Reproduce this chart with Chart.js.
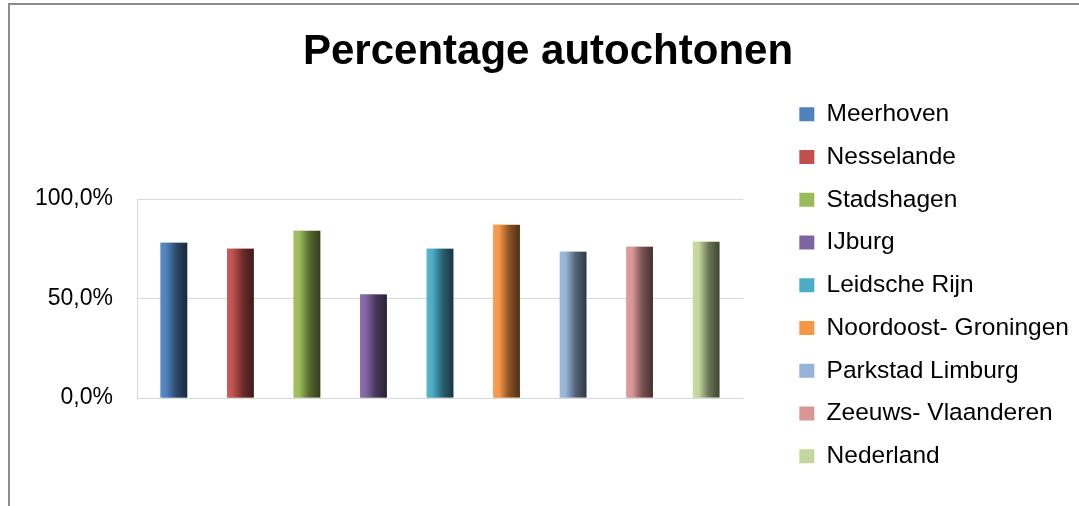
<!DOCTYPE html>
<html>
<head>
<meta charset="utf-8">
<script src="https://cdn.jsdelivr.net/npm/chart.js@4.4.1/dist/chart.umd.min.js"></script>
<style>
  html, body { margin: 0; padding: 0; background: #fff; overflow: hidden; }
  #frame { position: absolute; left: 8px; top: 3px; width: 2000px; height: 1000px;
           border-left: 2px solid #8c8c8c; border-top: 2px solid #8c8c8c; }
  #wrap { position: absolute; left: 0; top: 0; width: 1079px; height: 506px; }
</style>
</head>
<body>
<div id="frame"></div>
<div id="wrap"><canvas id="chart"></canvas></div>
<script>
const AREAS  = ['Meerhoven', 'Nesselande', 'Stadshagen', 'IJburg', 'Leidsche Rijn',
                'Noordoost- Groningen', 'Parkstad Limburg', 'Zeeuws- Vlaanderen', 'Nederland'];
const VALUES = [78, 75, 84, 52, 75, 87, 73.5, 76, 78.5];
const COLORS = ['#4F81BD', '#C0504D', '#9BBB59', '#8064A2', '#4BACC6',
                '#F79646', '#95B3D7', '#D99694', '#C3D69B'];
const Y_TICKS = [0, 50, 100];

const FONT = "'Liberation Sans', Arial, sans-serif";

function shade(hex, f) {
    const n = parseInt(hex.slice(1), 16);
    let r = (n >> 16) & 255, g = (n >> 8) & 255, b = n & 255;
    if (f >= 0) { r += (255 - r) * f; g += (255 - g) * f; b += (255 - b) * f; }
    else { r *= 1 + f; g *= 1 + f; b *= 1 + f; }
    return `rgb(${Math.round(r)},${Math.round(g)},${Math.round(b)})`;
}

// paint each bar like the Excel cylinder: light left edge, dark right edge
const cylinder = {
    id: 'cylinder',
    afterDatasetsDraw(chart) {
        const ctx = chart.ctx;
        chart.data.datasets.forEach((ds, i) => {
            chart.getDatasetMeta(i).data.forEach(bar => {
                const { x, y, base, width } = bar.getProps(['x', 'y', 'base', 'width'], true);
                const left = x - width / 2;
                const g = ctx.createLinearGradient(left, 0, left + width, 0);
                g.addColorStop(0, shade(ds.backgroundColor, 0.08));
                g.addColorStop(0.22, ds.backgroundColor);
                g.addColorStop(0.6, shade(ds.backgroundColor, -0.45));
                g.addColorStop(1, shade(ds.backgroundColor, -0.68));
                ctx.save();
                ctx.fillStyle = g;
                ctx.fillRect(left, y, width, base - y);
                ctx.restore();
            });
        });
    }
};

new Chart(document.getElementById('chart'), {
    type: 'bar',
    data: {
        labels: [''],
        datasets: AREAS.map((name, i) => ({
            label: name,
            data: [VALUES[i]],
            backgroundColor: COLORS[i],
            borderWidth: 0,
            categoryPercentage: 0.988,
            barPercentage: 0.4,
        }))
    },
    options: {
        responsive: true,
        maintainAspectRatio: false,
        animation: false,
        layout: { padding: { left: 17, right: 0, top: 0, bottom: 0 } },
        plugins: {
            title: {
                display: true,
                text: 'Percentage autochtonen',
                color: '#000',
                font: { family: FONT, size: 42, weight: 'bold' },
                padding: { top: 27, bottom: 121.6 }
            },
            legend: {
                position: 'right',
                align: 'start',
                maxWidth: 400,
                title: { display: true, text: ' ', font: { size: 12 }, padding: { top: 0, bottom: 69.35 } },
                labels: {
                    color: '#000',
                    font: { family: FONT, size: 24.5 },
                    boxWidth: 15,
                    boxHeight: 14,
                    padding: 18.25
                }
            },
            tooltip: { enabled: false }
        },
        scales: {
            x: {
                grid: { display: false },
                border: { display: false },
                ticks: { display: false },
                afterFit: s => { s.height = 108; }
            },
            y: {
                min: 0,
                max: 100,
                afterBuildTicks: s => { s.ticks = Y_TICKS.map(v => ({ value: v })); },
                ticks: {
                    color: '#000',
                    font: { family: FONT, size: 23 },
                    padding: 24,
                    callback: v => v.toFixed(1).replace('.', ',') + '%'
                },
                grid: { color: '#d9d9d9', drawTicks: false },
                border: { display: true, color: '#d9d9d9' },
                afterFit: s => { s.width = 120; }
            },
            gap: {
                position: 'right',
                grid: { display: false },
                border: { display: false },
                ticks: { display: false },
                afterFit: s => { s.width = 38; }
            }
        }
    },
    plugins: [cylinder]
});
</script>
</body>
</html>
